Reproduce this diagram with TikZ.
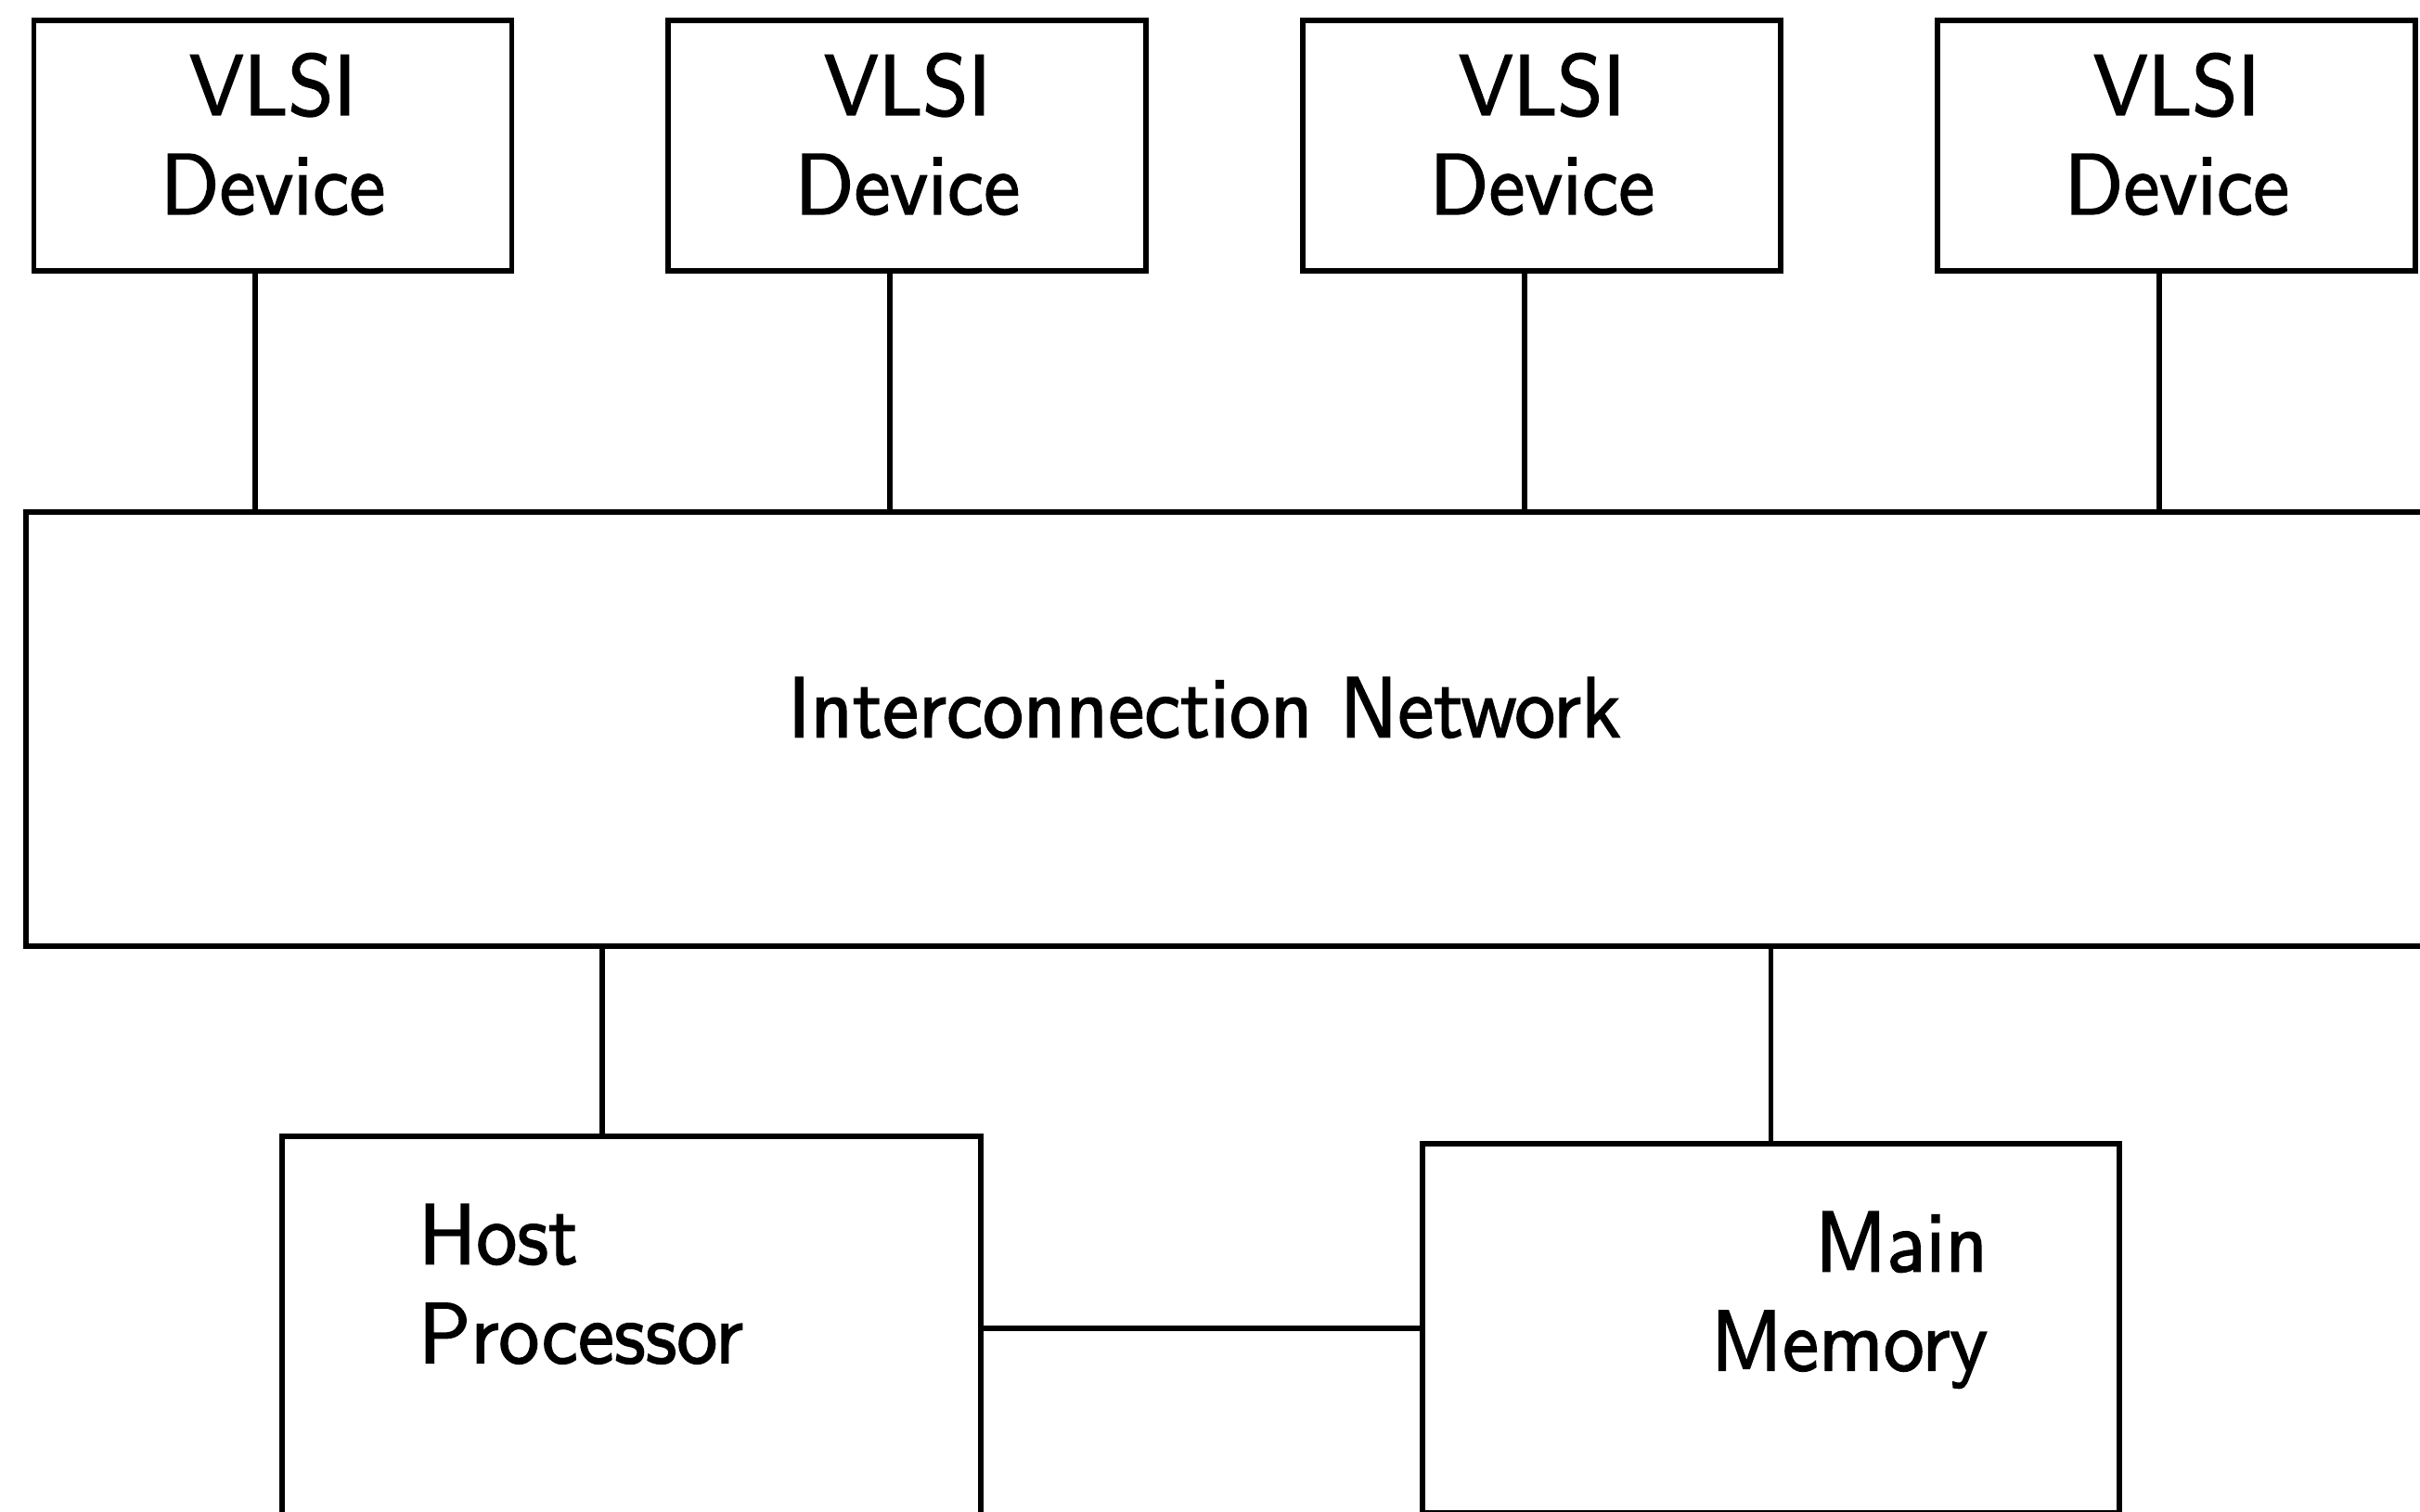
\documentclass[tikz,border=0pt]{standalone}
\usepackage{fontspec}
\usepackage{tikz}
\usetikzlibrary{positioning}

% sans labels, set a little heavier and narrower than the plain face
\newfontfamily\boxfont{lmsans10-regular.otf}[BoldFont=lmsans10-regular.otf, BoldFeatures={FakeBold=1.6, FakeStretch=0.945}]

\begin{document}
\begin{tikzpicture}[node distance=1.63cm, font=\fontsize{26.5}{30.4}\boxfont\bfseries, line width=1.7pt]
  \tikzstyle{dbox}=[rectangle, draw=black, text centered, align=center, text depth=0.26cm, minimum width=5.15cm, minimum height=2.7cm]
  \tikzstyle{bigbox}=[rectangle, draw=black, inner sep=0pt]
  \tikzstyle{lbl}=[inner sep=0pt]
  \tikzstyle{wire}=[-, line width=1.5pt]

  \fill[white] (0,0) rectangle (26.08,-16.30);
  \useasboundingbox (0,0) rectangle (26.08,-16.30);
  \clip (0,0) rectangle (26.08,-16.30);

  % row of devices
  \node (dev1) [dbox] at (2.94,-1.57) {VLSI\\Device};
  \node (dev2) [dbox, right=of dev1] {VLSI\\Device};
  \node (dev3) [dbox, right=of dev2] {VLSI\\Device};
  \node (dev4) [dbox, right=of dev3] {VLSI\\Device};

  % network runs off the right side
  \node (net) [bigbox, minimum width=26.22cm, minimum height=4.68cm] at (13.39,-7.86) {};
  \node (netlbl) [lbl, anchor=north] at (12.98,-7.27) {Interconnection Network};

  \node (host) [bigbox, minimum width=7.53cm, minimum height=4.14cm] at (6.805,-14.32) {};
  \node (hostlbl) [lbl, align=left, anchor=north west] at (4.48,-12.95) {Host\\Processor};
  \node (mem) [bigbox, minimum width=7.51cm, minimum height=3.98cm] at (19.085,-14.32) {};
  \node (memlbl) [lbl, align=right, anchor=north east] at (21.45,-13.03) {Main\\Memory};

  \draw[wire] ([xshift=-1.9mm]dev1.south) -- ([xshift=-1.9mm]dev1.south |- net.north);
  \draw[wire] ([xshift=-1.9mm]dev2.south) -- ([xshift=-1.9mm]dev2.south |- net.north);
  \draw[wire] ([xshift=-1.9mm]dev3.south) -- ([xshift=-1.9mm]dev3.south |- net.north);
  \draw[wire] ([xshift=-1.9mm]dev4.south) -- ([xshift=-1.9mm]dev4.south |- net.north);
  \draw[wire] ([xshift=-3.15mm]host.north) -- ([xshift=-3.15mm]host.north |- net.south);
  \draw[wire] (mem.north) -- (mem.north |- net.south);
  \draw[wire] (host.east) -- (mem.west);
\end{tikzpicture}
\end{document}
